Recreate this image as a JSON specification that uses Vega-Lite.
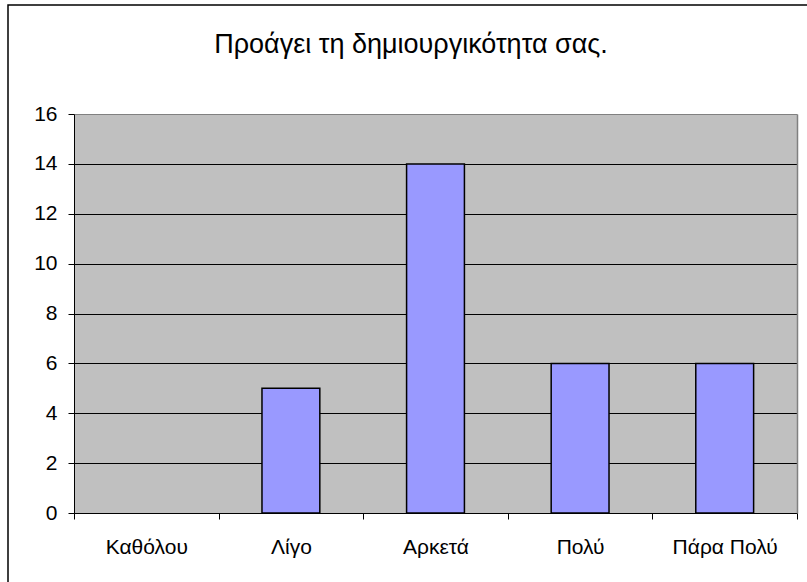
{
  "$schema": "https://vega.github.io/schema/vega-lite/v6.json",
  "width": 806,
  "height": 580,
  "autosize": {"type": "none"},
  "padding": {"left": 8, "top": 5, "right": 0, "bottom": 0},
  "background": "white",
  "config": {
    "view": {"stroke": "black", "strokeWidth": 1.5, "fill": null},
    "font": "Liberation Sans"
  },
  "title": {
    "text": "Προάγει τη δημιουργικότητα σας.",
    "font": "Liberation Sans",
    "fontSize": 27,
    "fontWeight": "normal",
    "color": "black",
    "anchor": "middle",
    "baseline": "alphabetic",
    "offset": -75
  },
  "data": {
    "values": [
      {"cat": "Καθόλου", "value": 0},
      {"cat": "Λίγο", "value": 5},
      {"cat": "Αρκετά", "value": 14},
      {"cat": "Πολύ", "value": 6},
      {"cat": "Πάρα Πολύ", "value": 6}
    ]
  },
  "encoding": {
    "x": {
      "field": "cat",
      "type": "nominal",
      "sort": null,
      "scale": {"range": [66, 789], "paddingInner": 0, "paddingOuter": 0},
      "axis": {
        "orient": "bottom",
        "offset": -72,
        "title": null,
        "labelAngle": 0,
        "labelFont": "Liberation Sans",
        "labelFontSize": 21,
        "labelColor": "black",
        "labelBaseline": "alphabetic",
        "labelPadding": 34,
        "domainColor": "black",
        "domainWidth": 1,
        "tickColor": "black",
        "tickSize": 6,
        "tickBand": "extent",
        "grid": false
      }
    }
  },
  "layer": [
    {
      "mark": {"type": "bar", "opacity": 0},
      "encoding": {
        "y": {
          "field": "value",
          "type": "quantitative",
          "scale": {"domain": [0, 16], "range": [508, 109], "nice": false, "zero": true},
          "axis": {
            "orient": "left",
            "offset": -66,
            "title": null,
            "values": [8],
            "labels": false,
            "ticks": false,
            "domain": false,
            "grid": true,
            "gridColor": "#C0C0C0",
            "gridWidth": 399
          }
        }
      }
    },
    {
      "mark": {"type": "bar", "opacity": 0},
      "encoding": {
        "y": {
          "field": "value",
          "type": "quantitative",
          "axis": {
            "orient": "right",
            "offset": -17,
            "title": null,
            "labels": false,
            "ticks": false,
            "domainColor": "#808080",
            "domainWidth": 1.5,
            "grid": false
          }
        }
      }
    },
    {
      "mark": {"type": "bar", "fill": "#9999FF", "stroke": "black", "strokeWidth": 1.5, "width": {"band": 0.4}},
      "encoding": {
        "strokeOpacity": {"condition": {"test": "datum.value == 0", "value": 0}, "value": 1},
        "y": {
          "field": "value",
          "type": "quantitative",
          "axis": {
            "orient": "left",
            "offset": -66,
            "title": null,
            "values": [0, 2, 4, 6, 8, 10, 12, 14, 16],
            "labelFont": "Liberation Sans",
            "labelFontSize": 21,
            "labelColor": "black",
            "labelPadding": 11,
            "domainColor": "black",
            "domainWidth": 1,
            "tickColor": "black",
            "tickSize": 6,
            "grid": true,
            "gridColor": {"condition": {"test": "datum.value == 16", "value": "#808080"}, "value": "black"},
            "gridWidth": 1
          }
        }
      }
    }
  ],
  "resolve": {"axis": {"y": "independent"}}
}
